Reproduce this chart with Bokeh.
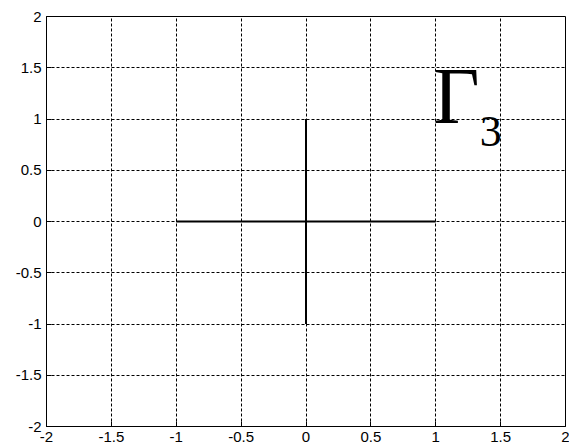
from bokeh.plotting import figure
from bokeh.models import FixedTicker, Label, Range1d
from bokeh.embed import file_html
from bokeh.resources import INLINE

ticks = [-2, -1.5, -1, -0.5, 0, 0.5, 1, 1.5, 2]
tick_labels = {t: ("%g" % t) for t in ticks}
h_x = [-1, 1]
h_y = [0, 0]
v_x = [0, 0]
v_y = [-1, 1]
title_main = "Γ"
title_sub = "3"

p = figure(width=569, height=447, output_backend="svg", toolbar_location=None,
           x_range=Range1d(-2, 2), y_range=Range1d(-2, 2),
           min_border_left=46, min_border_top=16, min_border_right=4, min_border_bottom=21)
p.background_fill_color = "white"
p.border_fill_color = "white"
p.outline_line_color = "black"
p.outline_line_width = 1

for ax in (p.xaxis[0], p.yaxis[0]):
    ax.ticker = FixedTicker(ticks=ticks)
    ax.major_label_overrides = tick_labels
    ax.major_tick_in = 5
    ax.major_tick_out = 0
    ax.minor_tick_in = 0
    ax.minor_tick_out = 0
    ax.axis_line_color = "black"
    ax.major_tick_line_color = "black"
    ax.major_label_text_font = "Liberation Sans"
    ax.major_label_text_font_size = "15px"
    ax.major_label_text_color = "black"
    ax.major_label_standoff = 5

for g in (p.xgrid[0], p.ygrid[0]):
    g.ticker = FixedTicker(ticks=ticks)
    g.grid_line_color = "black"
    g.grid_line_dash = "3 2"
    g.grid_line_width = 1
    g.grid_line_alpha = 1

p.line(h_x, h_y, line_color="black", line_width=2)
p.line(v_x, v_y, line_color="black", line_width=2)

p.add_layout(Label(x=0.98, y=1.22, text=title_main, text_font="Liberation Serif",
                   text_font_size="80px", text_color="black", text_baseline="alphabetic"))
p.add_layout(Label(x=1.34, y=0.88, text=title_sub, text_font="Liberation Serif",
                   text_font_size="44px", text_color="black", text_baseline="alphabetic"))

open("out.html", "w").write(file_html(p, INLINE))
